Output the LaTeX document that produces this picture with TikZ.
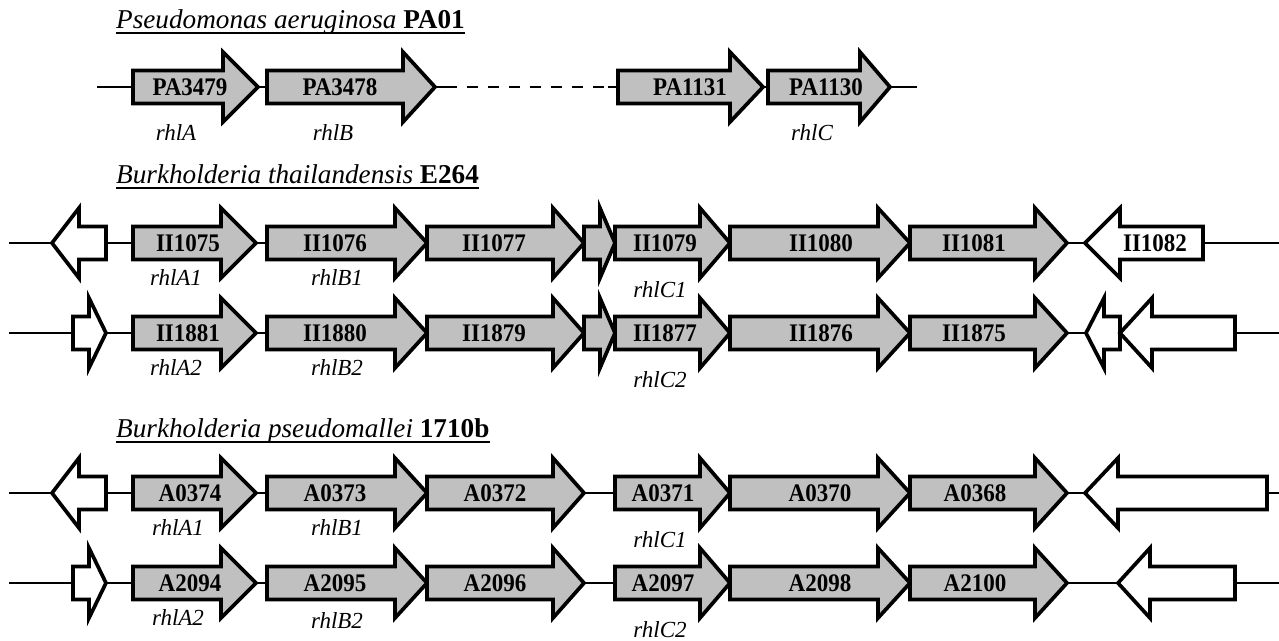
\documentclass[tikz,border=0pt]{standalone}
\usepackage{fontspec}
\setmainfont{Liberation Serif}
\definecolor{genegray}{RGB}{192,192,192}
\newcommand\gene[6]{%
  \draw[genebox, fill=#6] (#2,{#5-16.5}) -- (#3,{#5-16.5}) -- (#3,{#5-35}) -- (#4,#5) -- (#3,{#5+35}) -- (#3,{#5+16.5}) -- (#2,{#5+16.5}) -- cycle;
  \coordinate (#1-t) at (#2,#5);
  \coordinate (#1-h) at (#4,#5);
}
\newcommand\gid[4]{\node[gidstyle] (#1) at (#2,{#3+8.5}) {\scalebox{1}[1.1]{#4}};}
\newcommand\gname[4]{\node[gnamestyle] (#1) at (#2,#3) {#4};}
\begin{document}
\begin{tikzpicture}[x=1pt,y=-1pt,
  genebox/.style={draw=black, line width=3.7pt, line join=miter},
  backbone/.style={draw=black, line width=1.8pt},
  uline/.style={draw=black, line width=1.6pt},
  gidstyle/.style={font=\fontsize{23}{23}\selectfont\bfseries, inner sep=0pt, anchor=base},
  gnamestyle/.style={font=\fontsize{23}{23}\selectfont\itshape, inner sep=0pt, anchor=base},
  ttl/.style={font=\fontsize{27.2}{27.2}\selectfont, inner sep=0pt, anchor=base west},
]
\useasboundingbox (0,0) rectangle (1279,640);

% ---------- titles ----------
\node[ttl] (t1) at (116,28) {\textit{Pseudomonas aeruginosa} \textbf{PA01}};
\draw[uline] ([yshift=-5pt]t1.base west) -- ([yshift=-5pt]t1.base east);
\node[ttl] (t2) at (116,183) {\textit{Burkholderia thailandensis} \textbf{E264}};
\draw[uline] ([yshift=-5pt]t2.base west) -- ([yshift=-5pt]t2.base east);
\node[ttl] (t3) at (116,437) {\textit{Burkholderia pseudomallei} \textbf{1710b}};
\draw[uline] ([yshift=-5pt]t3.base west) -- ([yshift=-5pt]t3.base east);

% ---------- row 1 ----------
\gene{PA3479}{133}{223}{258}{87}{genegray}
\gene{PA3478}{267}{403}{435}{87}{genegray}
\gene{PA1131}{618}{730}{763}{87}{genegray}
\gene{PA1130}{768}{860}{890}{87}{genegray}
\coordinate (r1s) at (97,87);
\coordinate (r1e) at (917,87);
\coordinate (d1) at (457,87);
\coordinate (d2) at (608,87);
\draw[backbone] (r1s) -- (PA3479-t);
\draw[backbone] (PA3479-h) -- (PA3478-t);
\draw[backbone] (PA3478-h) -- (d1);
\draw[backbone, dash pattern=on 11pt off 10pt, dash phase=11pt] (d1) -- (d2);
\draw[backbone] (d2) -- (PA1131-t);
\draw[backbone] (PA1131-h) -- (PA1130-t);
\draw[backbone] (PA1130-h) -- (r1e);
\gid{l3479}{190}{87}{PA3479}
\gid{l3478}{340}{87}{PA3478}
\gid{l1131}{690}{87}{PA1131}
\gid{l1130}{826}{87}{PA1130}
\gname{n1a}{176}{140}{rhlA}
\gname{n1b}{333}{140}{rhlB}
\gname{n1c}{812}{140}{rhlC}

% ---------- row 2 ----------
\gene{w1}{106}{79}{52}{243}{white}
\gene{II1075}{133}{221}{256}{243}{genegray}
\gene{II1076}{267}{395}{427}{243}{genegray}
\gene{II1077}{427}{553}{584}{243}{genegray}
\gene{s1}{584}{600}{615}{243}{genegray}
\gene{II1079}{615}{700}{730}{243}{genegray}
\gene{II1080}{730}{878}{910}{243}{genegray}
\gene{II1081}{910}{1035}{1067}{243}{genegray}
\gene{II1082}{1203}{1120}{1085}{243}{white}
\coordinate (r2s) at (9,243);
\coordinate (r2e) at (1279,243);
\draw[backbone] (r2s) -- (w1-h);
\draw[backbone] (w1-t) -- (II1075-t);
\draw[backbone] (II1075-h) -- (II1076-t);
\draw[backbone] (II1081-h) -- (II1082-h);
\draw[backbone] (II1082-t) -- (r2e);
\gid{l1075}{188}{243}{II1075}
\gid{l1076}{335}{243}{II1076}
\gid{l1077}{494}{243}{II1077}
\gid{l1079}{665}{243}{II1079}
\gid{l1080}{821}{243}{II1080}
\gid{l1081}{974}{243}{II1081}
\gid{l1082}{1155}{243}{II1082}
\gname{n2a}{176}{285}{rhlA1}
\gname{n2b}{337}{285}{rhlB1}
\gname{n2c}{660}{297}{rhlC1}

% ---------- row 3 ----------
\gene{w2}{73}{89}{106}{333}{white}
\gene{II1881}{133}{221}{256}{333}{genegray}
\gene{II1880}{267}{395}{427}{333}{genegray}
\gene{II1879}{427}{553}{584}{333}{genegray}
\gene{s2}{584}{600}{615}{333}{genegray}
\gene{II1877}{615}{700}{730}{333}{genegray}
\gene{II1876}{730}{878}{910}{333}{genegray}
\gene{II1875}{910}{1035}{1067}{333}{genegray}
\gene{w3}{1120}{1104}{1086}{333}{white}
\gene{w4}{1235}{1152}{1120}{333}{white}
\coordinate (r3s) at (9,333);
\coordinate (r3e) at (1279,333);
\draw[backbone] (r3s) -- (w2-t);
\draw[backbone] (w2-h) -- (II1881-t);
\draw[backbone] (II1881-h) -- (II1880-t);
\draw[backbone] (II1875-h) -- (w3-h);
\draw[backbone] (w4-t) -- (r3e);
\gid{l1881}{188}{333}{II1881}
\gid{l1880}{335}{333}{II1880}
\gid{l1879}{494}{333}{II1879}
\gid{l1877}{665}{333}{II1877}
\gid{l1876}{821}{333}{II1876}
\gid{l1875}{974}{333}{II1875}
\gname{n3a}{176}{375}{rhlA2}
\gname{n3b}{337}{375}{rhlB2}
\gname{n3c}{660}{387}{rhlC2}

% ---------- row 4 ----------
\gene{w5}{106}{79}{52}{493}{white}
\gene{A0374}{133}{221}{256}{493}{genegray}
\gene{A0373}{267}{395}{427}{493}{genegray}
\gene{A0372}{427}{553}{584}{493}{genegray}
\gene{A0371}{615}{700}{730}{493}{genegray}
\gene{A0370}{730}{878}{910}{493}{genegray}
\gene{A0368}{910}{1035}{1067}{493}{genegray}
\gene{w6}{1267}{1118}{1085}{493}{white}
\coordinate (r4s) at (9,493);
\coordinate (r4e) at (1279,493);
\draw[backbone] (r4s) -- (w5-h);
\draw[backbone] (w5-t) -- (A0374-t);
\draw[backbone] (A0374-h) -- (A0373-t);
\draw[backbone] (A0372-h) -- (A0371-t);
\draw[backbone] (A0368-h) -- (w6-h);
\draw[backbone] (w6-t) -- (r4e);
\gid{l0374}{190}{493}{A0374}
\gid{l0373}{335}{493}{A0373}
\gid{l0372}{495}{493}{A0372}
\gid{l0371}{663}{493}{A0371}
\gid{l0370}{820}{493}{A0370}
\gid{l0368}{975}{493}{A0368}
\gname{n4a}{178}{535}{rhlA1}
\gname{n4b}{337}{535}{rhlB1}
\gname{n4c}{660}{547}{rhlC1}

% ---------- row 5 ----------
\gene{w7}{73}{89}{106}{583}{white}
\gene{A2094}{133}{221}{256}{583}{genegray}
\gene{A2095}{267}{395}{427}{583}{genegray}
\gene{A2096}{427}{553}{584}{583}{genegray}
\gene{A2097}{615}{700}{730}{583}{genegray}
\gene{A2098}{730}{878}{910}{583}{genegray}
\gene{A2100}{910}{1035}{1067}{583}{genegray}
\gene{w8}{1235}{1150}{1118}{583}{white}
\coordinate (r5s) at (9,583);
\coordinate (r5e) at (1279,583);
\draw[backbone] (r5s) -- (w7-t);
\draw[backbone] (w7-h) -- (A2094-t);
\draw[backbone] (A2094-h) -- (A2095-t);
\draw[backbone] (A2096-h) -- (A2097-t);
\draw[backbone] (A2100-h) -- (w8-h);
\draw[backbone] (w8-t) -- (r5e);
\gid{l2094}{190}{583}{A2094}
\gid{l2095}{335}{583}{A2095}
\gid{l2096}{495}{583}{A2096}
\gid{l2097}{663}{583}{A2097}
\gid{l2098}{820}{583}{A2098}
\gid{l2100}{975}{583}{A2100}
\gname{n5a}{178}{625}{rhlA2}
\gname{n5b}{337}{628}{rhlB2}
\gname{n5c}{660}{637}{rhlC2}
\end{tikzpicture}
\end{document}
